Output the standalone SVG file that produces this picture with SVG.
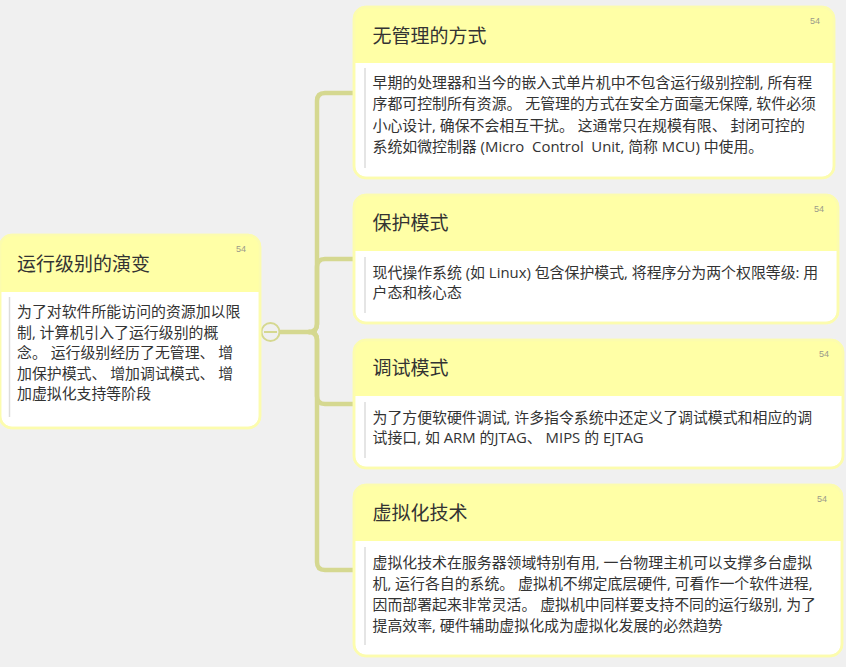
<svg xmlns="http://www.w3.org/2000/svg" width="846" height="667" viewBox="0 0 846 667">
<style>
.hdr{fill:#ffffa6}
.box{fill:#ffffff;stroke:#fcfcae;stroke-width:2.5}
.ttl{font-family:"Open Sans","Noto Sans CJK SC",sans-serif;font-size:19px;fill:#333333}
.txt{font-family:"Open Sans","Noto Sans CJK SC",sans-serif;font-size:14.9px;fill:#333333;white-space:pre}
.num{font-family:"Liberation Sans",sans-serif;font-size:9px;fill:#9a9a8a}
.bar{stroke:#dcdcdc;stroke-width:1.5}
.conn{fill:none;stroke:#d5d890;stroke-width:4.5;stroke-linecap:round}
</style>
<defs>
<clipPath id="c0"><rect x="0" y="235" width="260" height="193" rx="12"/></clipPath>
<clipPath id="c1"><rect x="354" y="7" width="480" height="171" rx="12"/></clipPath>
<clipPath id="c2"><rect x="354" y="195" width="484" height="128" rx="12"/></clipPath>
<clipPath id="c3"><rect x="354" y="340" width="489" height="128" rx="12"/></clipPath>
<clipPath id="c4"><rect x="354" y="485" width="488" height="171" rx="12"/></clipPath>
</defs>
<rect width="846" height="667" fill="#f0f0f0"/>

<g id="connectors">
<path class="conn" d="M280 332 H309 Q317 332 317 324 V101 Q317 93 325 93 H355"/>
<path class="conn" d="M309 332 Q317 332 317 324 V267 Q317 259 325 259 H355"/>
<path class="conn" d="M309 332 Q317 332 317 340 V396 Q317 404 325 404 H355"/>
<path class="conn" d="M309 332 Q317 332 317 340 V562 Q317 570 325 570 H355"/>
<circle cx="270.5" cy="332" r="9" fill="#f0f0f0" stroke="#d5d890" stroke-width="2"/>
<line x1="264" y1="332" x2="277" y2="332" stroke="#d5d890" stroke-width="2"/>
</g>

<g id="root">
<rect class="box" x="0" y="235" width="260" height="193" rx="12"/>
<rect class="hdr" x="0" y="235" width="260" height="57" clip-path="url(#c0)"/>
<rect x="0" y="235" width="260" height="193" rx="12" fill="none" stroke="#fcfcae" stroke-width="2.5"/>
<text class="num" x="236" y="252">54</text>
<text class="ttl" x="17" y="271">运行级别的演变</text>
<line class="bar" x1="9.5" y1="297" x2="9.5" y2="417"/>
<text class="txt" x="17" y="317">为了对软件所能访问的资源加以限</text>
<text class="txt" x="17" y="337.5">制, 计算机引入了运行级别的概</text>
<text class="txt" x="17" y="358">念。 运行级别经历了无管理、 增</text>
<text class="txt" x="17" y="378.5">加保护模式、 增加调试模式、 增</text>
<text class="txt" x="17" y="399">加虚拟化支持等阶段</text>
</g>

<g id="n1">
<rect class="box" x="354" y="7" width="480" height="171" rx="12"/>
<rect class="hdr" x="354" y="7" width="480" height="56" clip-path="url(#c1)"/>
<rect x="354" y="7" width="480" height="171" rx="12" fill="none" stroke="#fcfcae" stroke-width="2.5"/>
<text class="num" x="810" y="24">54</text>
<text class="ttl" x="372.5" y="43">无管理的方式</text>
<line class="bar" x1="365" y1="68" x2="365" y2="168"/>
<text class="txt" x="372.5" y="87.5">早期的处理器和当今的嵌入式单片机中不包含运行级别控制, 所有程</text>
<text class="txt" x="372.5" y="109">序都可控制所有资源。 无管理的方式在安全方面毫无保障, 软件必须</text>
<text class="txt" x="372.5" y="130.5">小心设计, 确保不会相互干扰。 这通常只在规模有限、 封闭可控的</text>
<text class="txt" x="372.5" y="152">系统如微控制器 (Micro  Control  Unit, 简称 MCU) 中使用。</text>
</g>

<g id="n2">
<rect class="box" x="354" y="195" width="484" height="128" rx="12"/>
<rect class="hdr" x="354" y="195" width="484" height="56" clip-path="url(#c2)"/>
<rect x="354" y="195" width="484" height="128" rx="12" fill="none" stroke="#fcfcae" stroke-width="2.5"/>
<text class="num" x="814" y="212">54</text>
<text class="ttl" x="372.5" y="230">保护模式</text>
<line class="bar" x1="365" y1="257" x2="365" y2="313"/>
<text class="txt" x="372.5" y="277.5">现代操作系统 (如 Linux) 包含保护模式, 将程序分为两个权限等级: 用</text>
<text class="txt" x="372.5" y="298">户态和核心态</text>
</g>

<g id="n3">
<rect class="box" x="354" y="340" width="489" height="128" rx="12"/>
<rect class="hdr" x="354" y="340" width="489" height="56" clip-path="url(#c3)"/>
<rect x="354" y="340" width="489" height="128" rx="12" fill="none" stroke="#fcfcae" stroke-width="2.5"/>
<text class="num" x="819" y="357">54</text>
<text class="ttl" x="372.5" y="375">调试模式</text>
<line class="bar" x1="365" y1="402" x2="365" y2="458"/>
<text class="txt" x="372.5" y="422.5">为了方便软硬件调试, 许多指令系统中还定义了调试模式和相应的调</text>
<text class="txt" x="372.5" y="443">试接口, 如 ARM 的JTAG、 MIPS 的 EJTAG</text>
</g>

<g id="n4">
<rect class="box" x="354" y="485" width="488" height="171" rx="12"/>
<rect class="hdr" x="354" y="485" width="488" height="56" clip-path="url(#c4)"/>
<rect x="354" y="485" width="488" height="171" rx="12" fill="none" stroke="#fcfcae" stroke-width="2.5"/>
<text class="num" x="817" y="502">54</text>
<text class="ttl" x="372.5" y="520">虚拟化技术</text>
<line class="bar" x1="365" y1="547" x2="365" y2="645"/>
<text class="txt" x="372.5" y="567.5">虚拟化技术在服务器领域特别有用, 一台物理主机可以支撑多台虚拟</text>
<text class="txt" x="372.5" y="588.5">机, 运行各自的系统。 虚拟机不绑定底层硬件, 可看作一个软件进程,</text>
<text class="txt" x="372.5" y="610">因而部署起来非常灵活。 虚拟机中同样要支持不同的运行级别, 为了</text>
<text class="txt" x="372.5" y="631">提高效率, 硬件辅助虚拟化成为虚拟化发展的必然趋势</text>
</g>
</svg>
